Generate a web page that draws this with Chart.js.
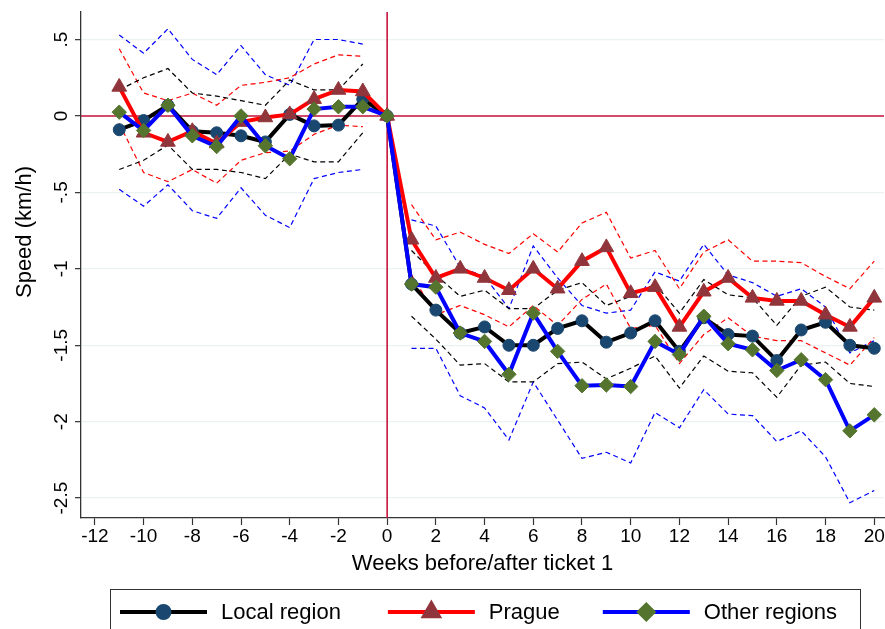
<!DOCTYPE html>
<html>
<head>
<meta charset="utf-8">
<script src="https://cdn.jsdelivr.net/npm/chart.js@4.4.1/dist/chart.umd.min.js"></script>
<style>
html,body{margin:0;padding:0;background:#fff;overflow:hidden}
#wrap{width:885px;height:629px;position:relative}
</style>
</head>
<body>
<div id="wrap"><canvas id="c" width="885" height="629"></canvas></div>
<script>
// ---------- data ----------
const weeks = [-11,-10,-9,-8,-7,-6,-5,-4,-3,-2,-1,0,1,2,3,4,5,6,7,8,9,10,11,12,13,14,15,16,17,18,19,20];
const seriesNames = ['Local region', 'Prague', 'Other regions'];

const localRegion = [-0.09,-0.03,0.07,-0.10,-0.11,-0.13,-0.17,0.01,-0.065,-0.06,0.11,0,
  -1.10,-1.27,-1.42,-1.38,-1.50,-1.50,-1.39,-1.34,-1.48,-1.42,-1.34,-1.54,-1.32,-1.43,-1.44,-1.60,-1.40,-1.35,-1.50,-1.52];
const prague = [0.19,-0.11,-0.17,-0.10,-0.18,-0.04,-0.01,0.01,0.11,0.17,0.16,0,
  -0.81,-1.06,-1.00,-1.06,-1.14,-1.00,-1.13,-0.95,-0.86,-1.16,-1.12,-1.38,-1.15,-1.06,-1.19,-1.21,-1.21,-1.30,-1.38,-1.19];
const otherRegions = [0.025,-0.095,0.07,-0.13,-0.20,0.0,-0.195,-0.28,0.045,0.06,0.06,0,
  -1.10,-1.12,-1.42,-1.475,-1.69,-1.29,-1.54,-1.765,-1.76,-1.77,-1.475,-1.56,-1.31,-1.49,-1.53,-1.665,-1.595,-1.725,-2.06,-1.955];

const localUpper = [0.17,0.25,0.31,0.15,0.13,0.10,0.07,0.235,0.17,0.17,0.34,null,
  -0.88,-1.04,-1.18,-1.14,-1.26,-1.26,-1.14,-1.09,-1.24,-1.18,-1.10,-1.29,-1.07,-1.17,-1.19,-1.37,-1.18,-1.12,-1.25,-1.27];
const localLower = [-0.35,-0.29,-0.19,-0.35,-0.35,-0.37,-0.41,-0.25,-0.30,-0.30,-0.11,null,
  -1.31,-1.46,-1.63,-1.62,-1.74,-1.74,-1.62,-1.61,-1.72,-1.65,-1.57,-1.78,-1.57,-1.67,-1.68,-1.84,-1.63,-1.61,-1.75,-1.77];
const pragueUpper = [0.44,0.15,0.10,0.15,0.07,0.20,0.22,0.25,0.34,0.40,0.39,null,
  -0.58,-0.81,-0.76,-0.84,-0.90,-0.77,-0.89,-0.70,-0.63,-0.93,-0.88,-1.13,-0.89,-0.81,-0.95,-0.95,-0.96,-1.05,-1.13,-0.95];
const pragueLower = [-0.05,-0.37,-0.43,-0.35,-0.44,-0.29,-0.24,-0.23,-0.12,-0.06,-0.07,null,
  -1.04,-1.30,-1.24,-1.30,-1.38,-1.24,-1.37,-1.20,-1.10,-1.39,-1.37,-1.62,-1.43,-1.32,-1.44,-1.47,-1.47,-1.55,-1.63,-1.45];
const otherUpper = [0.53,0.41,0.57,0.37,0.27,0.46,0.27,0.20,0.50,0.50,0.47,null,
  -0.68,-0.72,-0.99,-1.05,-1.26,-0.85,-1.06,-1.24,-1.29,-1.27,-1.02,-1.08,-0.84,-1.04,-1.09,-1.18,-1.13,-1.25,-1.55,-1.47];
const otherLower = [-0.48,-0.59,-0.45,-0.62,-0.67,-0.47,-0.65,-0.73,-0.41,-0.37,-0.35,null,
  -1.52,-1.52,-1.83,-1.91,-2.12,-1.74,-1.99,-2.24,-2.20,-2.27,-1.94,-2.04,-1.79,-1.95,-1.96,-2.13,-2.06,-2.23,-2.53,-2.45];

const xTicks = [-12,-10,-8,-6,-4,-2,0,2,4,6,8,10,12,14,16,18,20];
const xTickLabels = xTicks.map(String);
const yTicks = [0.5,0,-0.5,-1,-1.5,-2,-2.5];
const yTickLabels = ['.5','0','-.5','-1','-1.5','-2','-2.5'];
const xTitle = 'Weeks before/after ticket 1';
const yTitle = 'Speed (km/h)';

// ---------- styles ----------
const FONT = "'Liberation Sans', Arial, sans-serif";
const AXIS = '#333333';
const REF = '#c8143c';
const mainStyles = [
  {line:'#000000', marker:'#1a476f', pointStyle:'circle', radius:6},
  {line:'#ff0000', marker:'#90353b', pointStyle:'triangle', radius:8.5},
  {line:'#0000ff', marker:'#55752f', pointStyle:'rectRot', radius:7.2}
];

const pts = arr => weeks.map((w, i) => ({x: w, y: arr[i]}));

function mainDs(label, arr, st, order) {
  return {
    label, data: pts(arr), order,
    borderColor: st.line, borderWidth: 4,
    pointStyle: st.pointStyle, pointRadius: st.radius,
    pointBackgroundColor: st.marker, pointBorderColor: st.marker, pointBorderWidth: 1,
    tension: 0, fill: false
  };
}
function ciDs(arr, color) {
  return {
    label: '', data: pts(arr), order: 10,
    borderColor: color, borderWidth: 1.2, borderDash: [5, 3.5],
    pointRadius: 0, spanGaps: false, tension: 0, fill: false
  };
}

const datasets = [
  mainDs(seriesNames[2], otherRegions, mainStyles[2], 1),
  mainDs(seriesNames[1], prague, mainStyles[1], 2),
  mainDs(seriesNames[0], localRegion, mainStyles[0], 3),
  ciDs(localUpper, '#000000'), ciDs(localLower, '#000000'),
  ciDs(pragueUpper, '#ff0000'), ciDs(pragueLower, '#ff0000'),
  ciDs(otherUpper, '#0000ff'), ciDs(otherLower, '#0000ff')
];

function drawMarker(ctx, st, x, y) {
  ctx.fillStyle = st.marker; ctx.strokeStyle = st.marker;
  if (Chart.helpers && Chart.helpers.drawPoint) {
    Chart.helpers.drawPoint(ctx, {pointStyle: st.pointStyle, radius: st.radius, rotation: 0, borderWidth: 1}, x, y);
  } else {
    ctx.beginPath(); ctx.arc(x, y, st.radius, 0, Math.PI * 2); ctx.fill();
  }
}

const refLines = {
  id: 'refLines',
  beforeDatasetsDraw(chart) {
    const {ctx, chartArea: a, scales: {x, y}} = chart;
    const y0 = y.getPixelForValue(0), x0 = x.getPixelForValue(0);
    ctx.save();
    ctx.strokeStyle = REF; ctx.lineWidth = 1.6;
    ctx.beginPath();
    ctx.moveTo(a.left, y0); ctx.lineTo(a.right, y0);
    ctx.moveTo(x0, a.top); ctx.lineTo(x0, a.bottom);
    ctx.stroke();
    ctx.restore();
  }
};

const decorations = {
  id: 'decorations',
  afterDraw(chart) {
    const {ctx, chartArea: a, scales: {x, y}} = chart;
    ctx.save();
    ctx.fillStyle = '#000';
    ctx.font = '19px ' + FONT;
    ctx.textAlign = 'center'; ctx.textBaseline = 'middle';
    // x tick labels
    xTicks.forEach((v, i) => {
      ctx.fillText(xTickLabels[i], x.getPixelForValue(v), a.bottom + 19);
    });
    // y tick labels, rotated
    yTicks.forEach((v, i) => {
      ctx.save();
      ctx.translate(62, y.getPixelForValue(v));
      ctx.rotate(-Math.PI / 2);
      ctx.fillText(yTickLabels[i], 0, 0);
      ctx.restore();
    });
    // y title
    ctx.save();
    ctx.font = '22px ' + FONT;
    ctx.translate(25, 232);
    ctx.rotate(-Math.PI / 2);
    ctx.fillText(yTitle, 0, 0);
    ctx.restore();
    // legend
    ctx.strokeStyle = AXIS; ctx.lineWidth = 1;
    ctx.strokeRect(110.5, 589.5, 750, 60);
    ctx.font = '22px ' + FONT;
    ctx.textAlign = 'left'; ctx.textBaseline = 'middle';
    let lx = 120; const ly = 612;
    const gaps = [47, 43];
    seriesNames.forEach((name, i) => {
      const st = mainStyles[i];
      ctx.strokeStyle = st.line; ctx.lineWidth = 4;
      ctx.beginPath(); ctx.moveTo(lx, ly); ctx.lineTo(lx + 87, ly); ctx.stroke();
      drawMarker(ctx, st, lx + 43.5, ly);
      ctx.fillStyle = '#000';
      ctx.fillText(name, lx + 101, ly + 1);
      lx = lx + 101 + ctx.measureText(name).width + (gaps[i] || 44);
    });
    ctx.restore();
  }
};

Chart.defaults.font.family = FONT;

new Chart(document.getElementById('c'), {
  type: 'line',
  data: {datasets},
  plugins: [refLines, decorations],
  options: {
    responsive: false, animation: false, devicePixelRatio: 1, events: [],
    layout: {autoPadding: false, padding: {top: 12, right: 1, bottom: 41, left: 0}},
    plugins: {legend: {display: false}, tooltip: {enabled: false}},
    scales: {
      x: {
        type: 'linear', min: -12.57, max: 20.4,
        afterBuildTicks: s => { s.ticks = xTicks.map(v => ({value: v})); },
        afterFit: s => { s.height = 70; },
        ticks: {display: false},
        grid: {drawOnChartArea: false, drawTicks: true, tickLength: 7, tickColor: AXIS, tickWidth: 1.2},
        border: {display: true, color: AXIS, width: 1.3},
        title: {display: true, text: xTitle, font: {size: 22}, color: '#000', padding: {top: 0, bottom: 11}}
      },
      y: {
        type: 'linear', min: -2.63, max: 0.68,
        afterBuildTicks: s => { s.ticks = yTicks.map(v => ({value: v})); },
        afterFit: s => { s.width = 81; },
        ticks: {display: false},
        grid: {color: '#eaf2f3', lineWidth: 1.3, drawTicks: true, tickLength: 6, tickColor: AXIS, tickWidth: 1.2},
        border: {display: true, color: AXIS, width: 1.3}
      }
    }
  }
});
</script>
</body>
</html>
